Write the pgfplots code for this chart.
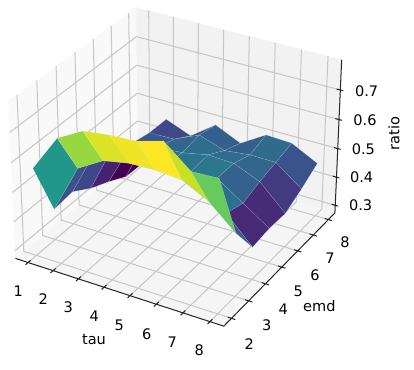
\documentclass[border=0pt]{standalone}
\usepackage{fontspec}
\setmainfont{DejaVu Sans}
\usepackage{pgfplots}
\pgfplotsset{compat=1.18}
\pgfplotsset{colormap={stretchedviridis}{
  rgb255(0pt)=(68,1,84); rgb255(110pt)=(68,1,84); rgb255(140pt)=(72,36,117);
  rgb255(171pt)=(65,68,135); rgb255(201pt)=(53,95,141); rgb255(232pt)=(42,120,142);
  rgb255(262pt)=(33,145,140); rgb255(292pt)=(34,168,132); rgb255(323pt)=(68,191,112);
  rgb255(353pt)=(122,209,81); rgb255(384pt)=(189,223,38); rgb255(414pt)=(253,231,37);
  rgb255(507pt)=(253,231,37)}}
\begin{document}
\begin{tikzpicture}
\begin{axis}[
  scale only axis, width=10cm, height=8.937cm,
  view={0}{90}, hide axis, clip=false,
  xmin=0, xmax=1242, ymin=0, ymax=1110, zmin=-1, zmax=1,
  point meta min=0.28, point meta max=0.787,
  declare function={
    sxf(\x,\y)=0.1234*(\x-4.5)+0.0831*(\y-5);
    syf(\x,\y,\z)=-0.03562*(\x-4.5)+0.07197*(\y-5)+1.4043*(\z-0.5371);
    dpf(\x,\y,\z)=0.0617*(\x-4.5)-0.12467*(\y-5)+0.8108*(\z-0.5371);
    px(\x,\y,\z)=534+6270*sxf(\x,\y)/(10-dpf(\x,\y,\z));
    py(\x,\y,\z)=632+6270*syf(\x,\y,\z)/(10-dpf(\x,\y,\z));
  },
  table/x expr={px(\thisrow{tau},\thisrow{emd},\thisrow{ratio})},
  table/y expr={py(\thisrow{tau},\thisrow{emd},\thisrow{ratio})},
  table/z expr={0},
  colormap name=stretchedviridis,
  every node/.style={font=\fontsize{8.8}{10.5}\selectfont, text=black!85},
]
\addplot3[fill=white, draw=none, forget plot] coordinates {(0,0,0) (1242,0,0) (1242,1110,0) (0,1110,0)};
% panes
\addplot3[fill=black!2.5, draw=none, forget plot] table {
tau emd ratio
0.49 1.5625 0.2728
0.49 8.4375 0.2728
0.49 8.4375 0.8013
0.49 1.5625 0.8013
};
\addplot3[fill=black!5, draw=none, forget plot] table {
tau emd ratio
0.49 8.4375 0.2728
8.51 8.4375 0.2728
8.51 8.4375 0.8013
0.49 8.4375 0.8013
};
\addplot3[fill=black!3.75, draw=none, forget plot] table {
tau emd ratio
0.49 1.5625 0.2728
8.51 1.5625 0.2728
8.51 8.4375 0.2728
0.49 8.4375 0.2728
};
% grid
\addplot3[color=black!22, line width=0.7pt, empty line=jump, forget plot] table {
tau emd ratio
1 1.5625 0.2728
1 8.4375 0.2728
1 8.4375 0.8013

2 1.5625 0.2728
2 8.4375 0.2728
2 8.4375 0.8013

3 1.5625 0.2728
3 8.4375 0.2728
3 8.4375 0.8013

4 1.5625 0.2728
4 8.4375 0.2728
4 8.4375 0.8013

5 1.5625 0.2728
5 8.4375 0.2728
5 8.4375 0.8013

6 1.5625 0.2728
6 8.4375 0.2728
6 8.4375 0.8013

7 1.5625 0.2728
7 8.4375 0.2728
7 8.4375 0.8013

8 1.5625 0.2728
8 8.4375 0.2728
8 8.4375 0.8013

8.51 2 0.2728
0.49 2 0.2728
0.49 2 0.8013

8.51 3 0.2728
0.49 3 0.2728
0.49 3 0.8013

8.51 4 0.2728
0.49 4 0.2728
0.49 4 0.8013

8.51 5 0.2728
0.49 5 0.2728
0.49 5 0.8013

8.51 6 0.2728
0.49 6 0.2728
0.49 6 0.8013

8.51 7 0.2728
0.49 7 0.2728
0.49 7 0.8013

8.51 8 0.2728
0.49 8 0.2728
0.49 8 0.8013

0.49 1.5625 0.3
0.49 8.4375 0.3
8.51 8.4375 0.3

0.49 1.5625 0.4
0.49 8.4375 0.4
8.51 8.4375 0.4

0.49 1.5625 0.5
0.49 8.4375 0.5
8.51 8.4375 0.5

0.49 1.5625 0.6
0.49 8.4375 0.6
8.51 8.4375 0.6

0.49 1.5625 0.7
0.49 8.4375 0.7
8.51 8.4375 0.7
};
% surface
\addplot3[surf, shader=faceted, faceted color=white, line width=0.2pt, draw opacity=0.3,
  mesh/rows=7, mesh/cols=8, z buffer=none,
  point meta=\thisrow{ratio}, forget plot] table {
tau emd ratio
1 8 0.280
2 8 0.464
3 8 0.430
4 8 0.493
5 8 0.453
6 8 0.507
7 8 0.503
8 8 0.458
1 7 0.283
2 7 0.466
3 7 0.468
4 7 0.507
5 7 0.478
6 7 0.488
7 7 0.487
8 7 0.421
1 6 0.317
2 6 0.479
3 6 0.490
4 6 0.496
5 6 0.514
6 6 0.510
7 6 0.473
8 6 0.390
1 5 0.346
2 5 0.528
3 5 0.520
4 5 0.505
5 5 0.508
6 5 0.511
7 5 0.452
8 5 0.393
1 4 0.387
2 4 0.557
3 4 0.550
4 4 0.570
5 4 0.560
6 4 0.565
7 4 0.472
8 4 0.384
1 3 0.379
2 3 0.546
3 3 0.597
4 3 0.614
5 3 0.617
6 3 0.610
7 3 0.565
8 3 0.487
1 2 0.572
2 2 0.697
3 2 0.745
4 2 0.757
5 2 0.762
6 2 0.787
7 2 0.715
8 2 0.720
};
% axis lines and ticks
\addplot3[color=black!85, line width=0.7pt, empty line=jump, forget plot] table {
tau emd ratio
0.49 1.5625 0.2728
8.51 1.5625 0.2728
8.51 8.4375 0.2728
8.51 8.4375 0.8013

1 1.70 0.2728
1 1.43 0.2728

2 1.70 0.2728
2 1.43 0.2728

3 1.70 0.2728
3 1.43 0.2728

4 1.70 0.2728
4 1.43 0.2728

5 1.70 0.2728
5 1.43 0.2728

6 1.70 0.2728
6 1.43 0.2728

7 1.70 0.2728
7 1.43 0.2728

8 1.70 0.2728
8 1.43 0.2728

8.37 2 0.2728
8.65 2 0.2728

8.37 3 0.2728
8.65 3 0.2728

8.37 4 0.2728
8.65 4 0.2728

8.37 5 0.2728
8.65 5 0.2728

8.37 6 0.2728
8.65 6 0.2728

8.37 7 0.2728
8.65 7 0.2728

8.37 8 0.2728
8.65 8 0.2728

8.37 8.4375 0.3
8.62 8.4375 0.3

8.37 8.4375 0.4
8.62 8.4375 0.4

8.37 8.4375 0.5
8.62 8.4375 0.5

8.37 8.4375 0.6
8.62 8.4375 0.6

8.37 8.4375 0.7
8.62 8.4375 0.7
};
% labels (positions in picture coordinates, y measured from the bottom)
\node at (axis cs:55,235,0) {1};
\node at (axis cs:130,213,0) {2};
\node at (axis cs:205,187,0) {3};
\node at (axis cs:283,162,0) {4};
\node at (axis cs:358,135,0) {5};
\node at (axis cs:440,108,0) {6};
\node at (axis cs:517,83,0) {7};
\node at (axis cs:598,58,0) {8};
\node at (axis cs:282,90,0) {tau};
\node at (axis cs:748,78,0) {2};
\node at (axis cs:800,133,0) {3};
\node at (axis cs:850,183,0) {4};
\node at (axis cs:895,235,0) {5};
\node at (axis cs:945,285,0) {6};
\node at (axis cs:990,335,0) {7};
\node at (axis cs:1035,382,0) {8};
\node at (axis cs:958,193,0) {emd};
\node at (axis cs:1082,493,0) {0.3};
\node at (axis cs:1085,578,0) {0.4};
\node at (axis cs:1090,661,0) {0.5};
\node at (axis cs:1095,748,0) {0.6};
\node at (axis cs:1100,836,0) {0.7};
\node[rotate=90] at (axis cs:1182,710,0) {ratio};
\end{axis}
\end{tikzpicture}
\end{document}
